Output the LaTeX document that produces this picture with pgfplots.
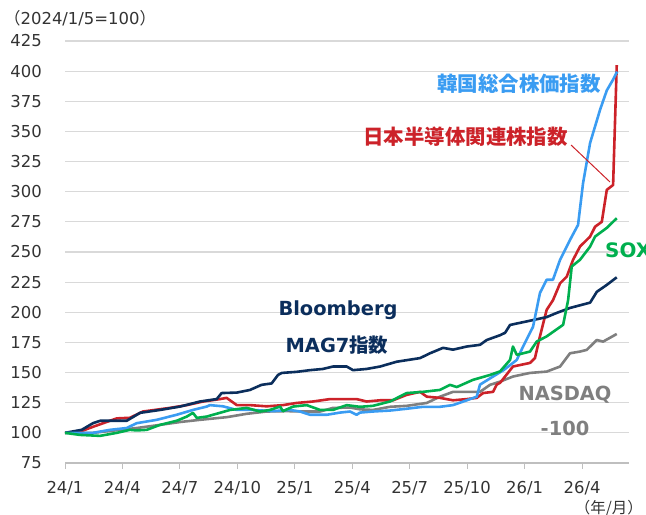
\documentclass[border=0pt]{standalone}
\usepackage{fontspec}
\setmainfont{DejaVu Sans}
\newfontfamily\jp{Noto Sans CJK JP}
\usepackage{pgfplots}
\pgfplotsset{compat=1.18}
\definecolor{cnavy}{HTML}{0B2E5C}
\definecolor{cred}{HTML}{CC2229}
\definecolor{cblue}{HTML}{3A9CF2}
\definecolor{cgreen}{HTML}{00AF4E}
\definecolor{cgray}{HTML}{7F7F7F}
\definecolor{cgrid}{HTML}{D9D9D9}
\definecolor{caxis}{HTML}{BFBFBF}
\begin{document}
\begin{tikzpicture}[x=1bp,y=1bp]
\begin{axis}[at={(65bp,52bp)}, anchor=south west, scale only axis,
  width=563.6bp, height=422bp,
  xmin=0, xmax=29.43, ymin=75, ymax=425,
  xtick={0,3,...,27},
  xticklabels={24/1,24/4,24/7,24/10,25/1,25/4,25/7,25/10,26/1,26/4},
  ytick={75,100,...,425},
  /pgf/number format/assume math mode=true,
  ymajorgrids, grid style={cgrid, line width=1.2bp},
  axis x line*=bottom, axis y line*=left,
  y axis line style={draw=none},
  x axis line style={draw=caxis, line width=1.2bp},
  xtick style={draw=caxis, line width=1bp},
  ytick style={draw=none},
  major tick length=6bp, tick align=outside,
  ticklabel style={font=\fontsize{16.5}{17}\selectfont, text=black!80},
  yticklabel style={anchor=east, inner sep=0pt, xshift=-17bp},
  xticklabel style={anchor=north, inner sep=0pt, yshift=-12bp},
  every axis plot/.append style={line width=2.6bp, line join=round, mark=none},
  clip=false,
]
% NASDAQ-100
\addplot[cgray] coordinates {(0,100)(1.46,100)(2.87,102.5)(3.74,104)(4.96,106.6)(6.01,109)(7.05,110.8)(8.44,113)(9.49,115.8)(10.53,117.7)(11.58,118)(12.62,117.7)(13.32,117.7)(13.99,120.7)(14.88,121)(15.40,119.5)(16.08,119)(16.97,121.6)(17.84,122.4)(18.89,124.8)(19.58,130)(20.26,134)(21.67,134)(22.19,139.8)(22.72,142.5)(23.39,146.7)(24.28,149.7)(25.15,150.8)(25.85,155)(26.37,166)(26.89,167.4)(27.24,168.8)(27.77,177)(28.10,175.7)(28.81,182)};
% Japan semis
\addplot[cred] coordinates {(0,100)(0.78,101)(1.46,105)(2.70,112)(3.39,112.5)(4.07,117.7)(5.48,120.7)(6.36,123)(7.21,126)(8.09,128)(8.44,129)(8.97,123)(9.66,123)(10.53,122)(11.38,123)(12.10,124.8)(12.95,126)(13.84,128)(14.71,128)(15.23,128)(15.75,126)(16.45,127)(17.13,127)(17.84,131.5)(18.54,134)(18.89,130)(19.58,129)(20.26,127)(20.98,128)(21.50,129)(21.83,133)(22.35,134)(22.54,140)(22.72,141.5)(23.39,155)(24.28,158)(24.54,162)(24.80,180)(25.15,202)(25.48,210)(25.85,224)(26.20,229.6)(26.53,243.5)(26.89,254.5)(27.42,262.8)(27.68,271)(28.03,275)(28.29,301.5)(28.62,305.6)(28.81,405)};
% MAG7
\addplot[cnavy] coordinates {(0,100)(0.87,102.5)(1.46,108)(1.83,110)(3.22,110)(3.92,116.6)(4.96,119)(6.01,121.8)(7.05,126)(7.92,128)(8.18,133)(8.97,133.4)(9.66,135.6)(10.26,139.8)(10.79,141)(11.12,148)(11.32,149.7)(12.10,150.6)(12.79,152)(13.47,153)(13.99,155)(14.71,155)(15.04,152)(15.75,153)(16.45,155)(17.32,159)(18.54,162)(19.06,166)(19.74,170.5)(20.26,169)(20.98,171.6)(21.67,173)(22.02,177)(22.72,181)(22.98,183)(23.24,189.5)(24.28,193)(25.15,196)(25.68,199.5)(26.37,203.6)(27.42,208)(27.77,217)(28.29,222.7)(28.81,229)};
% KOSPI
\addplot[cblue] coordinates {(0,100)(1.46,100)(2.35,102.5)(3.22,104)(3.74,108)(4.79,110.8)(5.83,115)(6.68,119)(7.40,121.8)(7.57,123)(8.25,122)(8.97,119)(9.82,119)(10.86,118)(11.75,119)(12.27,117.7)(12.79,115)(13.67,115)(14.36,116.8)(14.88,117.7)(15.23,115)(15.40,116.8)(16.08,117.7)(16.97,118.5)(17.84,120)(18.69,121.6)(19.58,121.6)(20.26,123)(20.98,127)(21.50,130)(21.67,140)(22.35,146.7)(22.9,152)(23.59,160.5)(23.92,171.6)(24.44,188)(24.80,216)(25.15,227)(25.48,227)(25.85,243.5)(26.37,260)(26.79,272.5)(27.05,307)(27.42,340.5)(27.94,368)(28.29,384)(28.62,393)(28.83,399.6)};
% SOX
\addplot[cgreen] coordinates {(0,100)(0.78,98.3)(1.83,97.5)(2.70,100)(3.39,102.5)(3.74,102)(4.27,102.5)(4.96,106.6)(5.83,110)(6.36,113.5)(6.68,116.6)(6.88,112.4)(7.40,113.5)(7.73,115)(8.62,119)(9.49,120.7)(10.18,117.7)(10.70,119)(11.23,121.8)(11.38,118)(11.91,121.8)(12.62,123)(13.32,119)(13.99,119)(14.71,123)(15.40,121.6)(16.08,122.4)(16.97,126)(17.84,133)(18.69,134)(19.58,135.6)(20.10,139.8)(20.46,138)(21.31,144)(22.19,148)(22.72,151)(23.24,160.5)(23.39,171.6)(23.59,164.7)(24.28,167.4)(24.63,175.7)(25.15,180)(26.01,189.6)(26.27,210)(26.46,238)(26.89,243.5)(27.42,254.5)(27.68,262.8)(28.29,270)(28.81,278)};
\end{axis}
% annotations (pixel coords: x, 515-y)
\node[anchor=west, inner sep=0pt, text=black!80, font=\fontsize{16.5}{17}\selectfont] at (4,497) {{\jp （}2024/1/5=100{\jp ）}};
\node[anchor=east, inner sep=0pt, text=black!80, font=\fontsize{15.5}{16}\selectfont] at (643,7) {{\jp （年/月）}};
\node[anchor=east, inner sep=0pt, text=cblue, font=\jp\bfseries\fontsize{20.5}{21}\selectfont] at (601,431) {韓国総合株価指数};
\node[anchor=east, inner sep=0pt, text=cred, font=\jp\bfseries\fontsize{20.5}{21}\selectfont] at (568,378) {日本半導体関連株指数};
\draw[cred, line width=1bp] (571,370) -- (610,333);
\node[anchor=west, inner sep=0pt, text=cgreen, font=\bfseries\fontsize{20}{21}\selectfont] at (605,265) {SOX};
\node[inner sep=0pt, text=cnavy, font=\bfseries\fontsize{19.5}{21}\selectfont] at (338,205) {Bloomberg};
\node[inner sep=0pt, text=cnavy, font=\bfseries\fontsize{19.5}{21}\selectfont] at (337,170) {MAG7{\jp 指数}};
\node[inner sep=0pt, text=cgray, font=\bfseries\fontsize{19.5}{21}\selectfont] at (565,120) {NASDAQ};
\node[inner sep=0pt, text=cgray, font=\bfseries\fontsize{19.5}{21}\selectfont] at (565,87) {-100};
\pgfresetboundingbox
\path[use as bounding box] (0,0) rectangle (646,515);
\end{tikzpicture}
\end{document}
